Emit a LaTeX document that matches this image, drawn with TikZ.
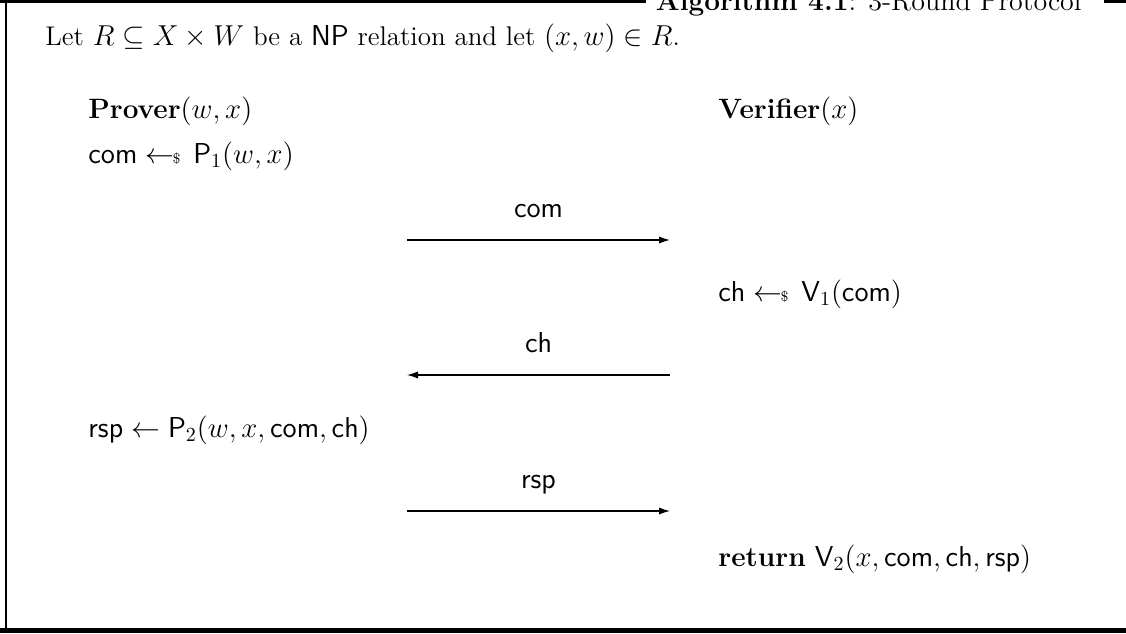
\documentclass[tikz,border=0pt]{standalone}
\usepackage{amsmath}
\usepackage{amssymb}
\usetikzlibrary{arrows.meta}
\newcommand{\smp}{\mathrel{\leftarrow\!\!{\scriptscriptstyle\$}\,}}
\newcommand{\alg}[1]{\mathsf{#1}}

\begin{document}
\begin{tikzpicture}[x=0.5pt,y=-0.5pt,font=\fontsize{14}{17}\selectfont]
\tikzset{
  txt/.style={anchor=base west,inner sep=0pt},
  lbl/.style={anchor=base,inner sep=0pt,yshift=11.5pt},
  msg/.style={line width=0.6pt,-{Latex[length=5.5pt,width=3.6pt]}},
}
\useasboundingbox (0,0) rectangle (1126,633);
\clip (0,0) rectangle (1126,633);

\node[anchor=base east,inner sep=0pt] (title) at (1082,10) {\textbf{Algorithm 4.1}: 3-Round Protocol};
\coordinate (tl) at (0,1.5);
\coordinate (tr) at (1126,1.5);
\draw[line width=1.5pt] (tl) -- ([xshift=-5pt]tl -| title.west);
\draw[line width=1.5pt] ([xshift=11pt]tr -| title.east) -- (tr);
\draw[line width=1pt] (6,0) -- (6,633);
\draw[line width=2.5pt] (0,630.5) -- (1126,630.5);

\node[txt,font=\fontsize{13.5}{16}\selectfont] (intro) at (45,45) {Let $R \subseteq X \times W$ be a $\alg{NP}$ relation and let $(x,w) \in R$.};
\node[txt] (prover) at (88,118) {\textbf{Prover}$(w,x)$};
\node[txt] (verifier) at (718,118) {\textbf{Verifier}$(x)$};
\node[txt] (p1) at (88,163) {$\alg{com} \smp \alg{P}_1(w,x)$};
\node[txt] (v1) at (718,301) {$\alg{ch} \smp \alg{V}_1(\alg{com})$};
\node[txt] (p2) at (88,437) {$\alg{rsp} \leftarrow \alg{P}_2(w,x,\alg{com},\alg{ch})$};
\node[txt] (v2) at (718,566) {\textbf{return} $\alg{V}_2(x,\alg{com},\alg{ch},\alg{rsp})$};

\coordinate (a1l) at (407,240);
\coordinate (a1r) at (670,240);
\coordinate (a2l) at (407,375);
\coordinate (a2r) at (670,375);
\coordinate (a3l) at (407,511);
\coordinate (a3r) at (670,511);
\draw[msg] (a1l) -- node[lbl] (m1) {$\alg{com}$} (a1r);
\draw[msg] (a2r) -- node[lbl] (m2) {$\alg{ch}$} (a2l);
\draw[msg] (a3l) -- node[lbl] (m3) {$\alg{rsp}$} (a3r);
\end{tikzpicture}
\end{document}
